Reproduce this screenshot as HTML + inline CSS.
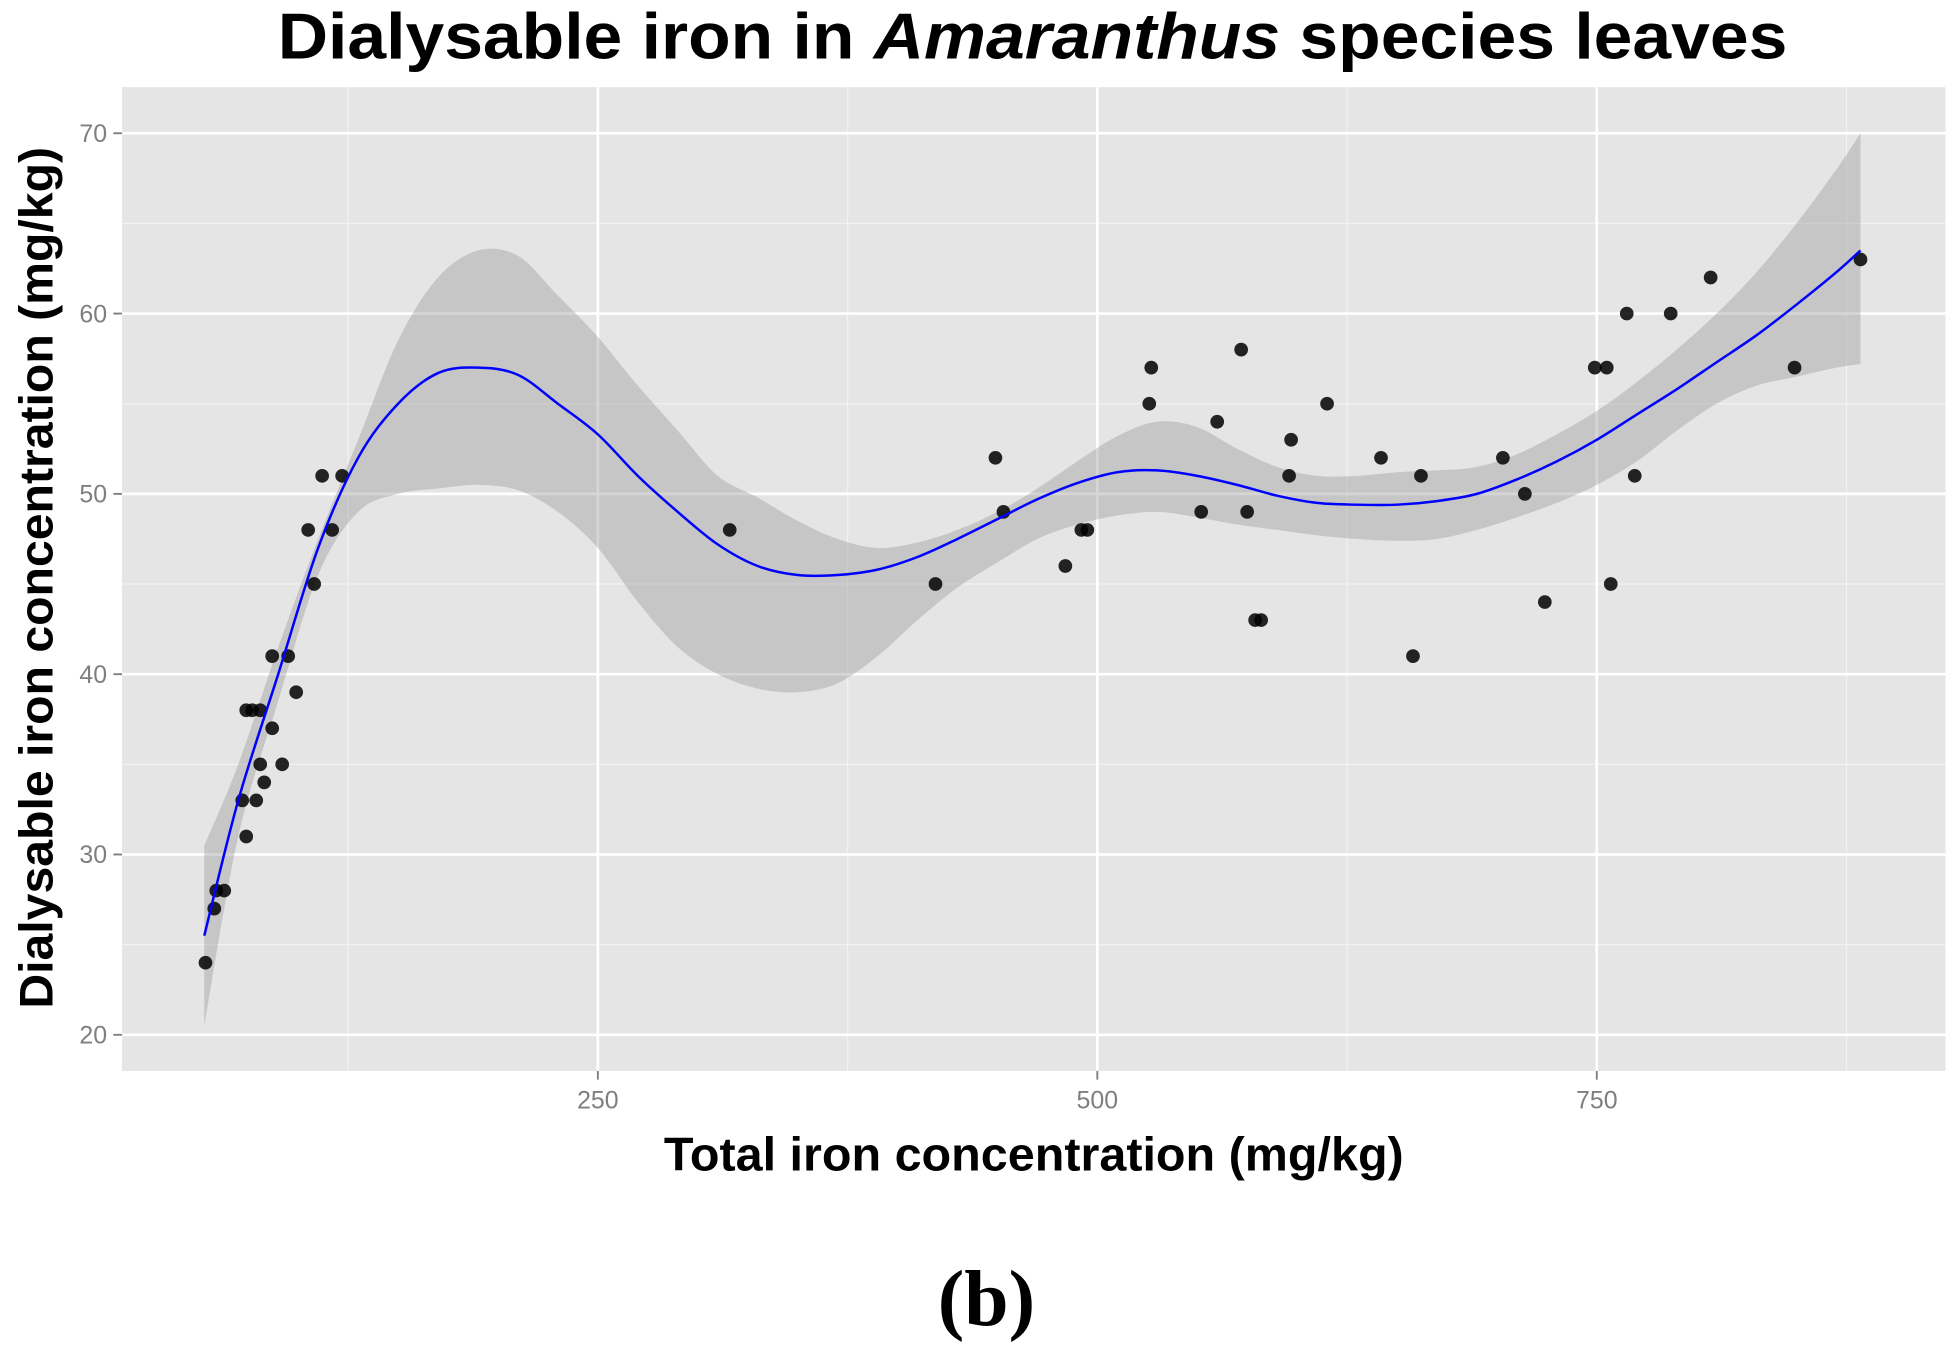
<!DOCTYPE html>
<html><head><meta charset="utf-8"><style>
html,body{margin:0;padding:0;background:#fff;}
svg{display:block;}
</style></head><body>
<svg id="chart" width="1953" height="1348" viewBox="0 0 1568 1082.5" preserveAspectRatio="none" xmlns="http://www.w3.org/2000/svg">
<text x="829" y="47" text-anchor="middle" font-family="Liberation Sans, sans-serif" font-weight="bold" font-size="52" textLength="1212" lengthAdjust="spacingAndGlyphs">Dialysable iron in <tspan font-style="italic">Amaranthus</tspan> species leaves</text>
<rect x="98" y="70" width="1464" height="790" fill="#e5e5e5"/>
<g id="grid"></g>
<path id="band" fill="#999" fill-opacity="0.4"/>
<g id="points"></g>
<path id="smooth" fill="none" stroke="#0000ff" stroke-width="2"/>
<g id="axes"></g>
<text x="830" y="940" text-anchor="middle" font-family="Liberation Sans, sans-serif" font-weight="bold" font-size="38" textLength="594" lengthAdjust="spacingAndGlyphs">Total iron concentration (mg/kg)</text>
<text transform="translate(42,464) rotate(-90)" text-anchor="middle" font-family="Liberation Sans, sans-serif" font-weight="bold" font-size="38" textLength="692" lengthAdjust="spacingAndGlyphs">Dialysable iron concentration (mg/kg)</text>
<text x="792" y="1064" text-anchor="middle" font-family="Liberation Serif, serif" font-weight="bold" font-size="64">(b)</text>
</svg>
<script>
const xTicks=[250,500,750];
const xMinor=[125,375,625,875];
const yTicks=[20,30,40,50,60,70];
const yMinor=[25,35,45,55,65];
const ptX=[53.6,58,59,63,72,74,74,77,81,79,81,83,87,87,92,95,99,105,108,112,117,122,316,419,449,453,484,492,495,526,527,552,560,572,575,579,582,597,596,615,642,658,662,703,714,724,749,755,757,765,769,787,807,849,882];
const ptY=[24,27,28,28,33,31,38,38,38,33,35,34,41,37,35,41,39,48,45,51,48,51,48,45,52,49,46,48,48,55,57,49,54,58,49,43,43,53,51,55,52,41,51,52,50,44,57,57,45,60,51,60,62,57,63];
const fitX=[53,70,90,110,130,150,170,190,210,230,250,270,290,310,330,350,370,390,410,430,450,470,490,510,530,550,570,590,610,630,650,670,690,710,730,750,770,790,810,830,850,870,882];
const fitY=[25.5,33,40,47,52,55,56.7,57,56.6,55,53.3,51,49,47.2,46,45.5,45.5,45.8,46.5,47.5,48.6,49.7,50.6,51.2,51.3,51,50.5,49.9,49.5,49.4,49.4,49.6,50,50.8,51.8,53,54.4,55.8,57.3,58.8,60.5,62.3,63.5];
const upY=[30.5,35,41.5,47.5,53,58.5,62,63.5,63.2,61,58.7,56,53.5,51,49.8,48.5,47.5,47,47.3,48,49,50.3,51.8,53.2,54,53.7,52.5,51.5,51,51,51.2,51.3,51.5,52.2,53.3,54.6,56.2,58,60,62.3,65,68,70];
const loY=[20.5,31,38.5,45.5,49,50,50.3,50.5,50.2,49,47,44,41.5,40,39.2,39,39.5,41,43,44.8,46.2,47.5,48.3,48.8,49,48.7,48.3,48,47.7,47.5,47.4,47.5,48,48.7,49.5,50.5,51.8,53.5,55,56,56.5,57,57.2];
const X=v=>79+v*1.604;
const Y=v=>107+(70-v)*14.48;
const NS='http://www.w3.org/2000/svg';
function mk(t,a,p){const e=document.createElementNS(NS,t);for(const k in a)e.setAttribute(k,a[k]);p.appendChild(e);return e;}
function spline(P){let d='';for(let i=0;i<P.length-1;i++){const p0=P[Math.max(0,i-1)],p1=P[i],p2=P[i+1],p3=P[Math.min(P.length-1,i+2)];
const c1=[p1[0]+(p2[0]-p0[0])/6,p1[1]+(p2[1]-p0[1])/6],c2=[p2[0]-(p3[0]-p1[0])/6,p2[1]-(p3[1]-p1[1])/6];
d+='C'+c1.join(',')+' '+c2.join(',')+' '+p2.join(',');}return d;}
const grid=document.getElementById('grid'),axes=document.getElementById('axes');
xMinor.forEach(v=>{const e=mk('line',{x1:X(v),x2:X(v),y1:70,y2:860,stroke:'#f2f2f2','stroke-width':1},grid);

});
yMinor.forEach(v=>{const e=mk('line',{x1:98,x2:1562,y1:Y(v),y2:Y(v),stroke:'#f2f2f2','stroke-width':1},grid);

});
xTicks.forEach(v=>{const e=mk('line',{x1:X(v),x2:X(v),y1:70,y2:860,stroke:'#fff','stroke-width':2.2},grid);


const t=mk('line',{x1:X(v),x2:X(v),y1:860,y2:867,stroke:'#7f7f7f','stroke-width':1.5},axes);


const l=mk('text',{x:X(v),y:890,'text-anchor':'middle','font-family':'Liberation Sans, sans-serif','font-size':20,fill:'#7f7f7f'},axes);


l.textContent=v;});
yTicks.forEach(v=>{const e=mk('line',{x1:98,x2:1562,y1:Y(v),y2:Y(v),stroke:'#fff','stroke-width':2.2},grid);


const t=mk('line',{x1:91,x2:98,y1:Y(v),y2:Y(v),stroke:'#7f7f7f','stroke-width':1.5},axes);


const l=mk('text',{x:86,y:Y(v)+7,'text-anchor':'end','font-family':'Liberation Sans, sans-serif','font-size':20,fill:'#7f7f7f'},axes);


l.textContent=v;});
const up=fitX.map((x,i)=>[X(x),Y(upY[i])]);
const lo=fitX.map((x,i)=>[X(x),Y(loY[i])]).reverse();
let d='M'+up[0].join(',')+spline(up)+'L'+lo[0].join(',')+spline(lo)+'Z';
document.getElementById('band').setAttribute('d',d);
const fp=fitX.map((x,i)=>[X(x),Y(fitY[i])]);
document.getElementById('smooth').setAttribute('d','M'+fp[0].join(',')+spline(fp));
const pts=document.getElementById('points');
ptX.forEach((x,i)=>{const c=mk('circle',{cx:X(x),cy:Y(ptY[i]),r:5.5,fill:'#000','fill-opacity':0.85},pts);

});
</script>
</body></html>
